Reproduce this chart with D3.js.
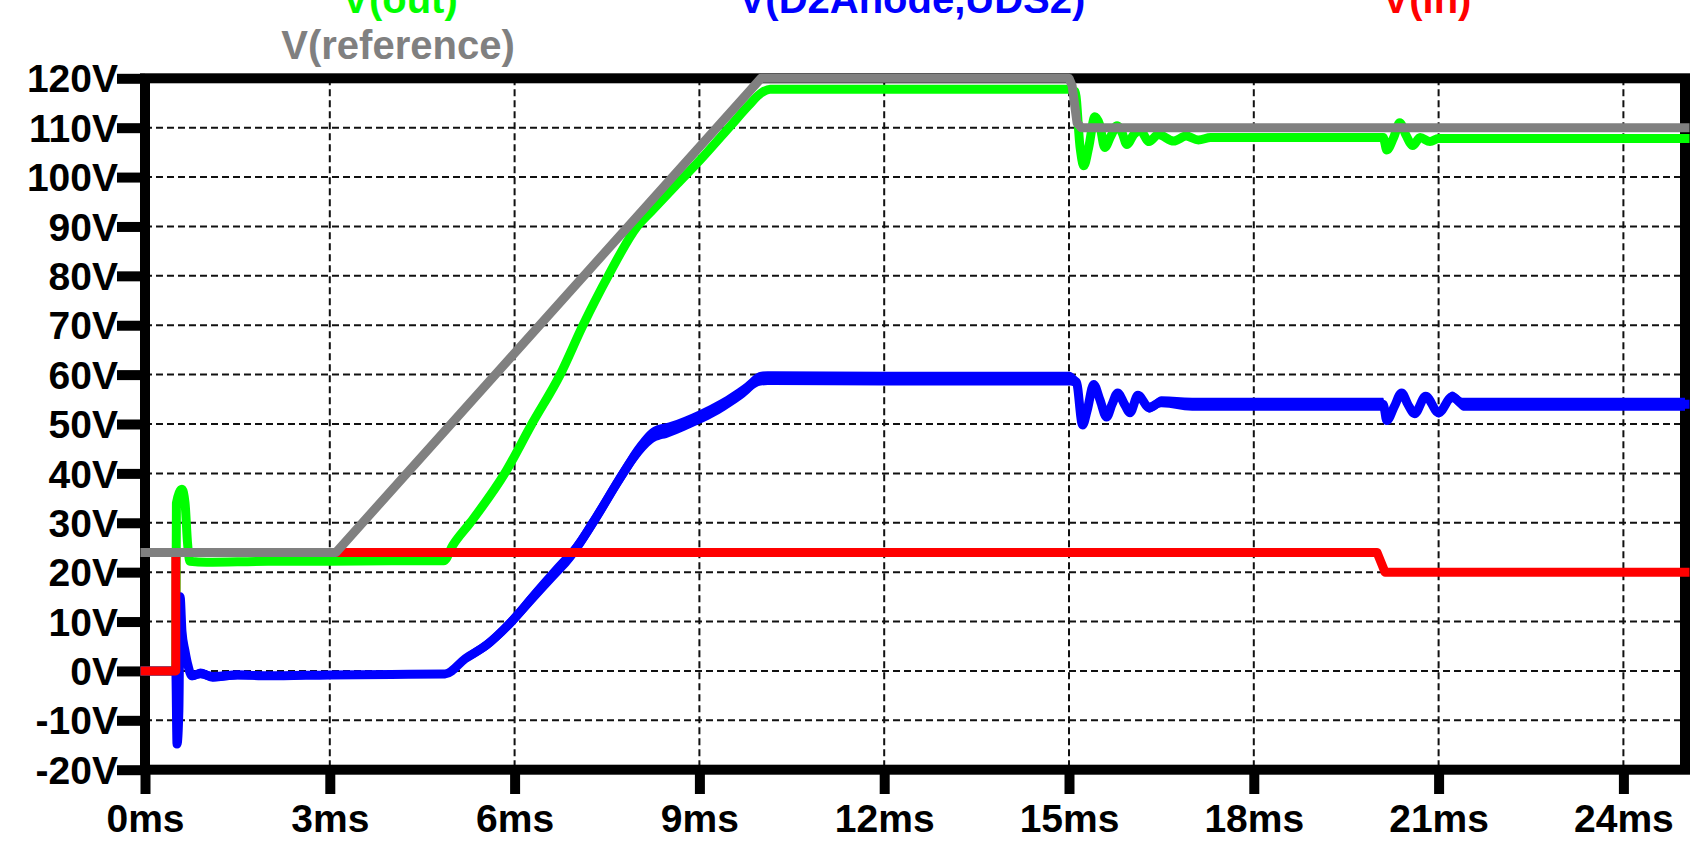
<!DOCTYPE html>
<html><head><meta charset="utf-8">
<script src="https://cdn.jsdelivr.net/npm/d3@7"></script>
<style>
html,body{margin:0;padding:0;background:#fff;}
svg{display:block;background:#fff;}
text{font-family:"Liberation Sans",Arial,Helvetica,sans-serif;font-weight:bold;}
</style></head><body>
<svg id="chart" width="1697" height="865"></svg>
<script>
// ---- tick values / labels ----
const xTicks = [0,3,6,9,12,15,18,21,24];
const xTickLabels = ["0ms","3ms","6ms","9ms","12ms","15ms","18ms","21ms","24ms"];
const yTicks = [-20,-10,0,10,20,30,40,50,60,70,80,90,100,110,120];
const yTickLabels = ["-20V","-10V","0V","10V","20V","30V","40V","50V","60V","70V","80V","90V","100V","110V","120V"];

// ---- series names ----
const seriesNames = ["V(out)","V(D2Anode,UDS2)","V(in)","V(reference)"];

// ---- series values: [time ms, volts, ripple half-amplitude volts] ----
const vout = [
 [0,0,0],[0.5,0,0],[0.51,34,0],[0.6,36.8,0],[0.65,34,0],[0.69,26,0],[0.73,22.2,0.4],
 [1.0,22.0,0.4],[2.0,22.2,0.3],[3.0,22.2,0.3],[4.0,22.3,0.3],[4.85,22.3,0.3],
 [5.0,25.5,0.3],[5.28,30,0.3],[5.84,40,0.3],[6.28,50,0.3],[6.74,60,0.3],[7.11,70,0.3],[7.52,80,0.3],
 [7.99,90,0.3],[8.23,93.2,0.3],[8.64,98.6,0.3],[9.0,103.3,0.3],[9.5,110.3,0.3],[9.8,114.5,0.3],
 [10.0,117,0.3],[10.15,117.8,0.4],[12,117.8,0.4],[15.0,117.8,0.4],
 [15.1,117.3,0.3],[15.18,106,0.5],[15.24,102.3,0.7],[15.32,106,0.7],[15.42,112.2,0.7],[15.5,110.5,0.7],
 [15.58,106,0.7],[15.68,108.3,0.7],[15.78,110.4,0.7],[15.86,109,0.7],[15.94,106.6,0.7],[16.05,108.6,0.6],
 [16.15,109.5,0.6],[16.3,107.2,0.6],[16.45,108.6,0.5],[16.7,107.3,0.5],[16.9,108.3,0.5],[17.1,107.5,0.5],
 [17.3,108,0.4],[20.1,108,0.4],[20.16,105.5,0.7],[20.27,108,0.7],[20.37,111,0.7],[20.47,108.5,0.7],
 [20.58,106.4,0.7],[20.7,108,0.5],[20.86,107.2,0.5],[21.0,107.8,0.4],[25,107.8,0.4]
];
const vd2 = [
 [0,0,0],[0.5,0,0],[0.52,-14.8,0],[0.55,-8,0],[0.57,15,0],[0.6,8,0.3],[0.65,4,0.5],[0.7,1,0.6],
 [0.76,-1,0.9],[0.9,-0.5,1.0],[1.1,-1.2,1.0],[1.5,-0.8,0.9],[2.0,-1.0,0.8],[3.0,-0.8,0.7],
 [4.0,-0.7,0.6],[4.87,-0.6,0.6],[5.2,2.5,0.9],[5.55,5.3,1.1],[5.95,10,1.3],[6.3,15,1.5],
 [6.66,20,1.6],[6.95,24,1.6],[7.27,30,1.7],[7.76,40,1.7],[8.0,44.5,1.7],[8.25,47.8,1.6],
 [8.5,48.8,1.5],[9.0,51.4,1.4],[9.33,53.5,1.4],[9.7,56.5,1.4],[10.0,59.2,1.4],[10.2,59.3,1.4],
 [12,59.2,1.4],[15.0,59.2,1.4],[15.12,58.5,1.1],[15.22,49.8,0.8],[15.3,53,0.8],[15.4,58,0.8],
 [15.5,55,0.8],[15.61,51.4,0.8],[15.7,54,0.8],[15.79,56.3,0.8],[15.9,54,0.9],[15.99,52.3,0.9],
 [16.12,55.8,0.9],[16.3,53.3,1.0],[16.5,54.5,1.1],[17,54,1.3],[20.1,54,1.3],[20.16,50.7,0.8],
 [20.28,53.5,0.8],[20.4,56.3,0.8],[20.5,54,0.8],[20.61,52.1,0.8],[20.79,55.6,0.9],
 [21.0,52.3,1.0],[21.22,55.5,1.1],[21.4,54,1.3],[25,54,1.3]
];
const vin = [[0,0,0],[0.5,0,0],[0.5,24,0],[20.0,24,0],[20.13,20,0],[25,20,0]];
const vref = [[0,24,0],[3.1,24,0],[10.0,120,0],[15.0,120,0],[15.05,118.5,0],[15.13,111,0],[15.2,110,0],[25,110,0]];

// ---- styling ----
const seriesColors = ["#00ff00","#0000ff","#ff0000","#808080"];
const seriesData = [vout, vd2, vin, vref];
const seriesSmooth = [true, true, false, false];

const svg = d3.select("#chart");
const plot = {left:145, right:1685, top:78.3, bottom:769.7};

const x = d3.scaleLinear().domain([0,25]).range([plot.left, plot.right]);
const y = d3.scaleLinear().domain([-20,120]).range([plot.bottom, plot.top]);

// grid
const grid = svg.append("g").attr("stroke","#111").attr("stroke-width",2).attr("stroke-dasharray","7,4");
grid.selectAll("line.vx").data(xTicks.filter(d=>d>0 && d<25)).enter().append("line")
  .attr("x1",d=>x(d)).attr("x2",d=>x(d)).attr("y1",plot.top).attr("y2",plot.bottom);
grid.selectAll("line.hy").data(yTicks.filter(d=>d>-20 && d<120)).enter().append("line")
  .attr("y1",d=>y(d)).attr("y2",d=>y(d)).attr("x1",plot.left).attr("x2",plot.right);

// axes
const gy = svg.append("g").attr("transform",`translate(${plot.left},0)`)
  .call(d3.axisLeft(y).tickValues(yTicks).tickFormat((d,i)=>yTickLabels[i]).tickSize(28).tickPadding(0));
gy.select(".domain").remove();
gy.selectAll(".tick line").attr("stroke","#000").attr("stroke-width",10);
gy.selectAll(".tick text").attr("font-size",39).attr("fill","#000").attr("x",-27).attr("dy","0.35em")
  .style("font-family",'"Liberation Sans",Arial,sans-serif').style("font-weight","bold");

const gx = svg.append("g").attr("transform",`translate(0,${plot.bottom})`)
  .call(d3.axisBottom(x).tickValues(xTicks).tickFormat((d,i)=>xTickLabels[i]).tickSize(24.3).tickPadding(0));
gx.select(".domain").remove();
gx.selectAll(".tick line").attr("stroke","#000").attr("stroke-width",10);
gx.selectAll(".tick text").attr("font-size",39).attr("fill","#000").attr("y",62.3).attr("dy",0)
  .style("font-family",'"Liberation Sans",Arial,sans-serif').style("font-weight","bold");

// frame
svg.append("rect").attr("x",plot.left).attr("y",plot.top)
  .attr("width",plot.right-plot.left).attr("height",plot.bottom-plot.top)
  .attr("fill","none").attr("stroke","#000").attr("stroke-width",10);

// traces
seriesData.forEach((data,i)=>{
  const curve = seriesSmooth[i] ? d3.curveMonotoneX : d3.curveLinear;
  const line = d3.line().x(d=>x(d[0])).y(d=>y(d[1])).curve(curve);
  const area = d3.area().x(d=>x(d[0])).y0(d=>y(d[1]-d[2])).y1(d=>y(d[1]+d[2])).curve(curve);
  const g = svg.append("g");
  g.append("path").datum(data).attr("d",area).attr("fill",seriesColors[i]).attr("stroke","none");
  g.append("path").datum(data).attr("d",line).attr("fill","none")
    .attr("stroke",seriesColors[i]).attr("stroke-width",9)
    .attr("stroke-linejoin","round").attr("stroke-linecap","square");
});

// legend (trace names)
const legendPos = [[400,13],[912,13],[1427,13],[398,59]];
svg.append("g").selectAll("text").data(seriesNames).enter().append("text")
  .attr("x",(d,i)=>legendPos[i][0]).attr("y",(d,i)=>legendPos[i][1])
  .attr("text-anchor","middle").attr("font-size",40)
  .attr("fill",(d,i)=>seriesColors[i]).text(d=>d);
</script>
</body></html>
